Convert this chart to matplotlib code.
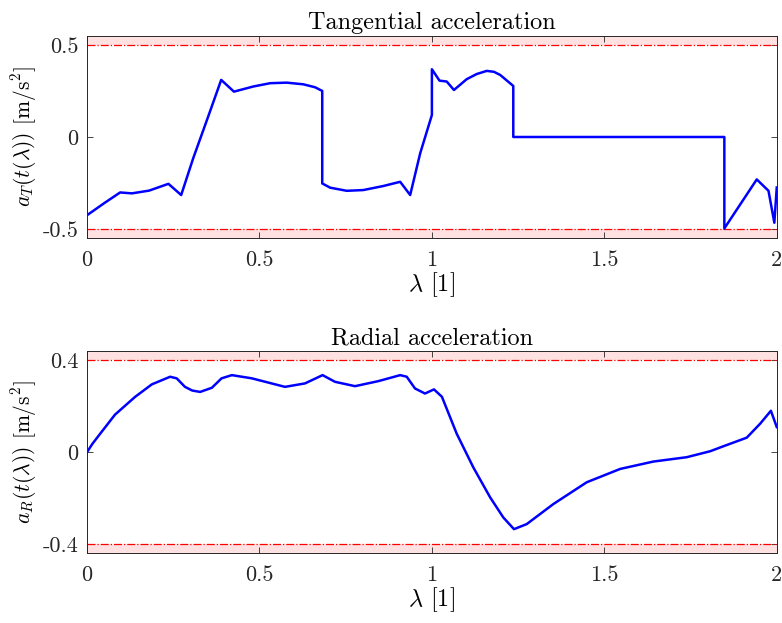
import numpy as np
import matplotlib
matplotlib.use('Agg')
import matplotlib.pyplot as plt

plt.rcParams['font.family'] = 'serif'
plt.rcParams['font.serif'] = ['cmr10']
plt.rcParams['mathtext.fontset'] = 'cm'
plt.rcParams['axes.unicode_minus'] = False

# tangential acceleration
lam_t = [0.0, 0.05, 0.096, 0.13, 0.18, 0.236, 0.273, 0.308, 0.352, 0.389, 0.426,
         0.482, 0.531, 0.579, 0.627, 0.661, 0.682, 0.682, 0.705, 0.753, 0.801,
         0.859, 0.908, 0.937, 0.966, 1.0, 1.0, 1.022, 1.043, 1.064, 1.101, 1.13,
         1.159, 1.18, 1.198, 1.236, 1.236, 1.848, 1.848, 1.942, 1.976, 1.993, 2.0]
a_t = [-0.426, -0.36, -0.302, -0.307, -0.292, -0.255, -0.316, -0.115, 0.115, 0.311, 0.247,
       0.275, 0.293, 0.296, 0.287, 0.271, 0.251, -0.253, -0.276, -0.293, -0.289,
       -0.267, -0.244, -0.316, -0.089, 0.12, 0.369, 0.307, 0.302, 0.256, 0.315, 0.343,
       0.36, 0.355, 0.338, 0.278, 0.0, 0.0, -0.498, -0.231, -0.293, -0.467, -0.275]

# radial acceleration
lam_r = [0.0, 0.015, 0.038, 0.081, 0.139, 0.188, 0.241, 0.26, 0.284, 0.305, 0.328,
         0.362, 0.39, 0.42, 0.478, 0.574, 0.632, 0.683, 0.719, 0.777, 0.845, 0.908,
         0.927, 0.951, 0.98, 1.006, 1.029, 1.072, 1.12, 1.169, 1.207, 1.238, 1.275,
         1.352, 1.449, 1.546, 1.642, 1.739, 1.807, 1.846, 1.913, 1.952, 1.983, 2.0]
a_r = [0.0, 0.035, 0.08, 0.163, 0.24, 0.295, 0.328, 0.321, 0.284, 0.268, 0.262,
       0.28, 0.321, 0.335, 0.321, 0.284, 0.299, 0.335, 0.306, 0.287, 0.309, 0.335,
       0.328, 0.277, 0.255, 0.273, 0.241, 0.08, -0.066, -0.197, -0.284, -0.335, -0.313,
       -0.226, -0.131, -0.073, -0.041, -0.022, 0.004, 0.026, 0.063, 0.124, 0.18, 0.109]

lim_t = 0.5
lim_r = 0.4
xticks = [0, 0.5, 1, 1.5, 2]
xtick_labels = ['0', '0.5', '1', '1.5', '2']


def panel(ax, x, y, lim, ymax, yticks, ylabels, title, ylabel):
    ax.axhspan(lim, ymax, color='#ffe1e1', lw=0, zorder=0)
    ax.axhspan(-ymax, -lim, color='#ffe1e1', lw=0, zorder=0)
    ax.axhline(lim, color='red', ls='-.', lw=0.9)
    ax.axhline(-lim, color='red', ls='-.', lw=0.9)
    ax.plot(x, y, color='blue', lw=1.8)
    ax.set_xlim(0, 2)
    ax.set_ylim(-ymax, ymax)
    ax.set_xticks(xticks)
    ax.set_xticklabels(xtick_labels)
    ax.set_yticks(yticks)
    ax.set_yticklabels(ylabels)
    ax.tick_params(direction='in', top=True, right=True, labelsize=16,
                   colors='#262626', length=4, width=0.6)
    ax.tick_params(axis='x', pad=9)
    ax.tick_params(axis='y', pad=6)
    for s in ax.spines.values():
        s.set_color('#262626')
        s.set_linewidth(0.7)
    ax.set_title(title, fontsize=17.5, pad=5)
    ax.set_xlabel(r'$\lambda$ [1]', fontsize=17.5, labelpad=0)
    ax.set_ylabel(ylabel, fontsize=15.5, labelpad=3)


fig = plt.figure(figsize=(7.82, 6.23), dpi=100)
ax1 = fig.add_axes([0.1113, 0.618, 0.882, 0.3242])
ax2 = fig.add_axes([0.1113, 0.1119, 0.882, 0.3247])

panel(ax1, lam_t, a_t, lim_t, 0.55, [-0.5, 0, 0.5], ['-0.5', '0', '0.5'],
      'Tangential acceleration', r'$a_T(t(\lambda))$ [m/s$^2$]')
panel(ax2, lam_r, a_r, lim_r, 0.44, [-0.4, 0, 0.4], ['-0.4', '0', '0.4'],
      'Radial acceleration', r'$a_R(t(\lambda))$ [m/s$^2$]')

fig.savefig('out.png', dpi=100)
